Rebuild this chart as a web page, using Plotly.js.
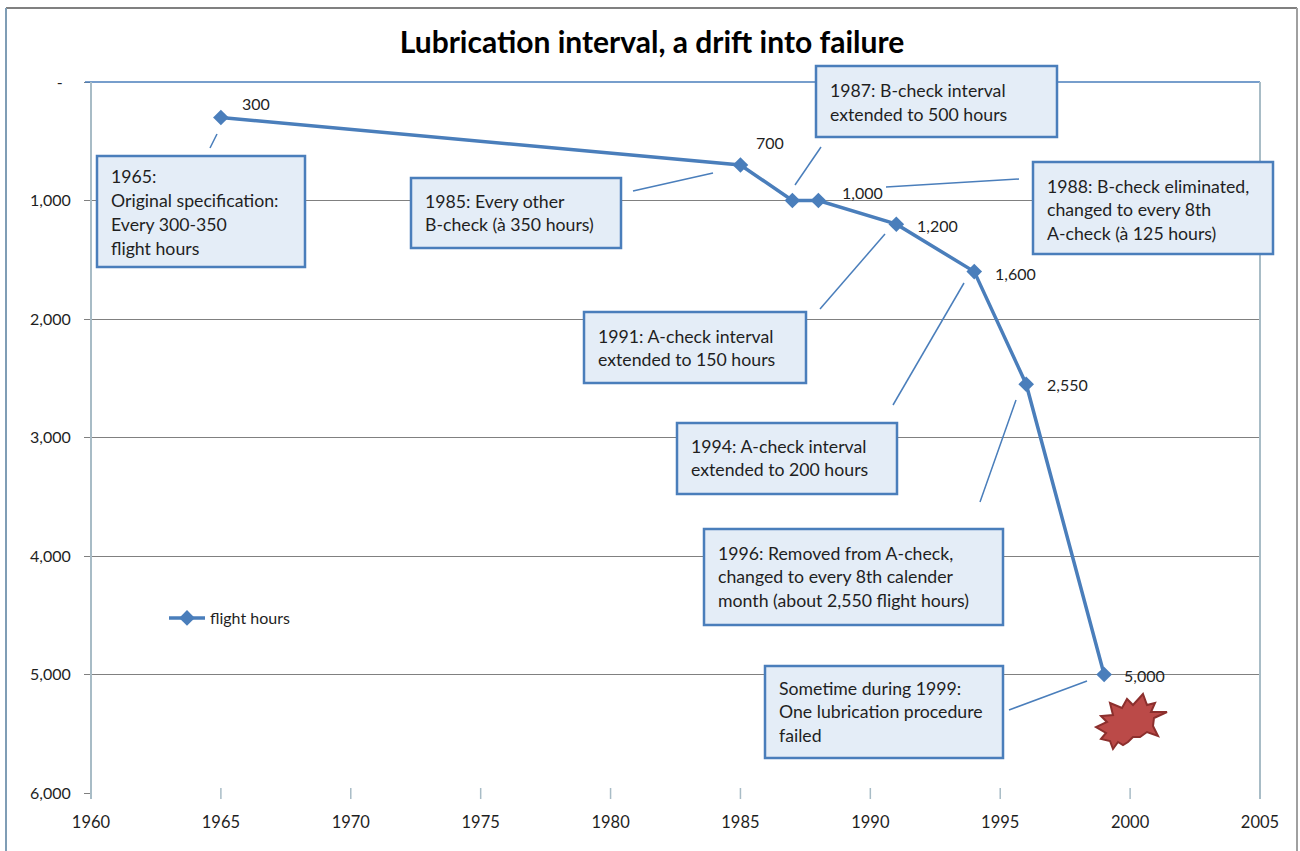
<!DOCTYPE html>
<html>
<head>
<meta charset="utf-8">
<script src="https://cdn.plot.ly/plotly-3.0.1.min.js"></script>
<style>
    html, body { margin: 0; padding: 0; background: #fff; }
    #graph { width: 1300px; height: 851px; }
</style>
</head>
<body>
<div id="graph"></div>
<script>
// *********************************************************************************************
// DATA

const YEARS = [1965, 1985, 1987, 1988, 1991, 1994, 1996, 1999];
const FLIGHT_HOURS = [300, 700, 1000, 1000, 1200, 1600, 2550, 5000];
const VALUE_LABELS = ['300', '700', '', '1,000', '1,200', '1,600', '2,550', '5,000'];

const X_TICKS = [1960, 1965, 1970, 1975, 1980, 1985, 1990, 1995, 2000, 2005];
const Y_TICKS = [0, 1000, 2000, 3000, 4000, 5000, 6000];
const Y_TICK_LABELS = ['-\u00a0\u00a0', '1,000', '2,000', '3,000', '4,000', '5,000', '6,000'];

const NOTE_1965 = ['1965:', 'Original specification:', 'Every 300-350', 'flight hours'];
const NOTE_1985 = ['1985: Every other', 'B-check (à 350 hours)'];
const NOTE_1987 = ['1987: B-check interval', 'extended to 500 hours'];
const NOTE_1988 = ['1988: B-check eliminated,', 'changed to every 8th', 'A-check (à 125 hours)'];
const NOTE_1991 = ['1991: A-check interval', 'extended to 150 hours'];
const NOTE_1994 = ['1994: A-check interval', 'extended to 200 hours'];
const NOTE_1996 = ['1996: Removed from A-check,', 'changed to every 8th calender', 'month (about 2,550 flight hours)'];
const NOTE_1999 = ['Sometime during 1999:', 'One lubrication procedure', 'failed'];


// *********************************************************************************************
// PAGE GEOMETRY (pixels of the 1300x851 picture)

const PLOT_L = 91, PLOT_R = 1260, PLOT_T = 82, PLOT_B = 793;
const px = (v) => (v - PLOT_L) / (PLOT_R - PLOT_L);
const py = (v) => (PLOT_B - v) / (PLOT_B - PLOT_T);

const BLUE = '#4a7ebb';
const GREY = '#808080';
const AXIS_GREY = '#a8bcc6';
const TEXT = '#1f1f1f';
const FONT = 'Lato, "Open Sans", sans-serif';

// box x0, y0, x1, y1, first line centre, leader x0, y0, x1, y1
const NOTES = [
    { lines: NOTE_1965, box: [97, 156, 305, 267], first: 177, leader: [210, 148, 217, 134] },
    { lines: NOTE_1985, box: [411, 178, 621, 248], first: 201, leader: [633, 191, 713, 173] },
    { lines: NOTE_1987, box: [816, 66, 1057, 137], first: 91, leader: [795, 185, 821, 147] },
    { lines: NOTE_1988, box: [1033, 162, 1273, 254], first: 186, leader: [886, 187, 1019, 179] },
    { lines: NOTE_1991, box: [584, 312, 806, 383], first: 336, leader: [820, 309, 885, 234] },
    { lines: NOTE_1994, box: [677, 423, 897, 494], first: 446, leader: [893, 405, 964, 283] },
    { lines: NOTE_1996, box: [704, 529, 1003, 625], first: 553, leader: [980, 502, 1016, 400] },
    { lines: NOTE_1999, box: [765, 666, 1003, 758], first: 688, leader: [1009, 710, 1087, 681] }
];

// offset of each value label from its point
const LABEL_SHIFT = [[35, 14], [30, 22], [0, 0], [44, 8], [41, -1], [41, -2], [41, 0], [40, -1]];

const BURST = [
    [1143, 694], [1147, 705], [1155, 703], [1151, 712], [1167, 712], [1154, 718], [1153, 726], [1158, 736],
    [1147, 732], [1140, 737], [1133, 737], [1128, 742], [1123, 745], [1118, 742], [1113, 749], [1110, 741],
    [1101, 739], [1106, 733], [1096, 727], [1107, 722], [1101, 716], [1113, 715], [1110, 703], [1122, 708],
    [1127, 699], [1133, 705]
];


// *********************************************************************************************
// SHAPES / ANNOTATIONS

const line = (x0, y0, x1, y1, color, width) => ({
    type: 'line', xref: 'paper', yref: 'paper', layer: 'above',
    x0: px(x0), y0: py(y0), x1: px(x1), y1: py(y1),
    line: { color: color, width: width }
});

let shapes = [
    // page frame
    line(6, 8, 1297, 8, GREY, 2),
    line(6, 8, 6, 851, '#7f9db5', 2),
    line(1297, 8, 1297, 851, '#a0a0a0', 2),
    // plot frame
    line(85, PLOT_T, PLOT_R, PLOT_T, BLUE, 1.5),
    line(PLOT_L, PLOT_T, PLOT_L, 799, AXIS_GREY, 2),
    line(PLOT_R, PLOT_T, PLOT_R, 799, AXIS_GREY, 2)
];

// x ticks cross the axis
X_TICKS.slice(1, -1).forEach((year) => {
    shapes.push({
        type: 'line', xref: 'x', yref: 'paper', layer: 'above',
        x0: year, x1: year, y0: py(788), y1: py(799),
        line: { color: AXIS_GREY, width: 1.5 }
    });
});

let annotations = [];

NOTES.forEach((note) => {
    const [bx0, by0, bx1, by1] = note.box;
    const [lx0, ly0, lx1, ly1] = note.leader;
    shapes.push(line(lx0, ly0, lx1, ly1, BLUE, 1.5));
    shapes.push({
        type: 'rect', xref: 'paper', yref: 'paper', layer: 'above',
        x0: px(bx0), y0: py(by0), x1: px(bx1), y1: py(by1),
        fillcolor: '#e4edf7',
        line: { color: BLUE, width: 2.5 }
    });
    note.lines.forEach((text, i) => {
        annotations.push({
            xref: 'paper', yref: 'paper', showarrow: false,
            x: px(bx0 + 12), y: py(note.first + i * 23.7),
            xanchor: 'left', yanchor: 'middle',
            text: text,
            font: { family: FONT, size: 17.7, color: TEXT }
        });
    });
});

shapes.push({
    type: 'path', xref: 'paper', yref: 'paper', layer: 'above',
    path: 'M' + BURST.map((p) => px(p[0]) + ' ' + py(p[1])).join(' L') + ' Z',
    fillcolor: '#bb4a48',
    line: { color: '#8c2f2d', width: 2 }
});

VALUE_LABELS.forEach((label, i) => {
    if (!label) return;
    annotations.push({
        x: YEARS[i], y: FLIGHT_HOURS[i], showarrow: false,
        xshift: LABEL_SHIFT[i][0], yshift: LABEL_SHIFT[i][1],
        text: label,
        font: { family: FONT, size: 16, color: TEXT }
    });
});


// *********************************************************************************************
// TRACE / LAYOUT

let trace = {
    name: 'flight hours',
    type: 'scatter',
    mode: 'lines+markers',
    x: YEARS,
    y: FLIGHT_HOURS,
    line: { color: BLUE, width: 3.5 },
    marker: { color: BLUE, symbol: 'diamond', size: 12 },
    hoverinfo: 'x+y'
};

let layout = {
    width: 1300,
    height: 851,
    margin: { t: PLOT_T, r: 1300 - PLOT_R, b: 851 - PLOT_B, l: PLOT_L, pad: 0 },
    paper_bgcolor: '#fff',
    plot_bgcolor: '#fff',
    font: { family: FONT, size: 16, color: TEXT },
    title: {
        text: '<b>Lubrication interval, a drift into failure</b>',
        font: { family: FONT, size: 30, color: '#000' },
        xref: 'paper',
        x: px(652),
        xanchor: 'center',
        y: 1 - 42 / 851,
        yanchor: 'middle'
    },
    showlegend: true,
    legend: {
        x: px(164),
        y: py(618),
        xanchor: 'left',
        yanchor: 'middle',
        bgcolor: 'rgba(0,0,0,0)',
        itemwidth: 36,
        font: { family: FONT, size: 16, color: TEXT }
    },
    xaxis: {
        range: [1960, 2005],
        tickvals: X_TICKS,
        ticktext: X_TICKS.map(String),
        ticks: '',
        ticklabelstandoff: 17,
        showgrid: false,
        zeroline: false,
        showline: false,
        tickfont: { family: FONT, size: 16.5, color: TEXT }
    },
    yaxis: {
        range: [6000, 0],
        tickvals: Y_TICKS,
        ticktext: Y_TICK_LABELS,
        ticks: 'outside',
        ticklen: 6,
        tickcolor: GREY,
        tickwidth: 1,
        ticklabelstandoff: 10,
        showgrid: true,
        gridcolor: GREY,
        gridwidth: 1,
        zeroline: false,
        showline: false,
        tickfont: { family: FONT, size: 16, color: TEXT }
    },
    shapes: shapes,
    annotations: annotations
};

const config = {
    displaylogo: false,
    displayModeBar: false
};

Plotly.newPlot('graph', [trace], layout, config);
</script>
</body>
</html>
